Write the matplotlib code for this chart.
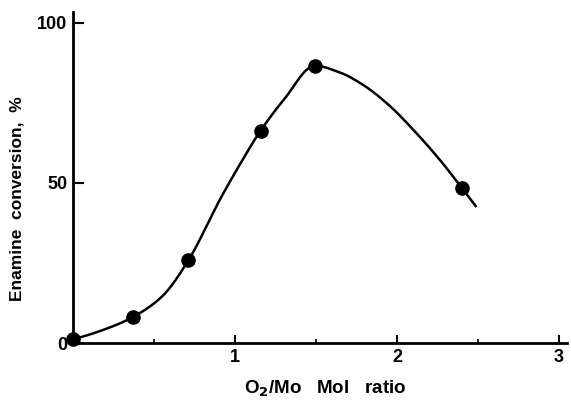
import numpy as np
import matplotlib
matplotlib.use("Agg")
import matplotlib.pyplot as plt

# Measured data points
ratio = [0.0, 0.373, 0.712, 1.158, 1.494, 2.40]
conversion = [1.2, 8.2, 25.8, 66.3, 86.6, 48.5]

# Hand-drawn smooth curve
curve_x = [0.0, 0.214, 0.373, 0.549, 0.712, 0.907, 1.012, 1.158, 1.30,
           1.494, 1.648, 1.792, 1.957, 2.121, 2.265, 2.40, 2.486]
curve_y = [1.2, 4.6, 8.2, 14.5, 25.8, 44.8, 54.2, 66.3, 75.9,
           86.6, 84.5, 80.6, 74.0, 65.5, 57.2, 48.5, 42.8]

x_ticks = [0, 1, 2, 3]
x_tick_labels = ["", "1", "2", "3"]
y_ticks = [0, 50, 100]
y_tick_labels = ["0", "50", "100"]

plt.rcParams['font.family'] = ["Liberation Sans", "DejaVu Sans"]


def _end_slope(h0, h1, d0, d1):
    d = ((2 * h0 + h1) * d0 - h0 * d1) / (h0 + h1)
    if np.sign(d) != np.sign(d0):
        d = 0.0
    elif np.sign(d0) != np.sign(d1) and abs(d) > abs(3 * d0):
        d = 3 * d0
    return d


def pchip(x, y, num=800):
    x = np.asarray(x, float)
    y = np.asarray(y, float)
    n = len(x)
    h = np.diff(x)
    delta = np.diff(y) / h
    d = np.zeros(n)
    for k in range(1, n - 1):
        if delta[k - 1] * delta[k] <= 0:
            d[k] = 0.0
        else:
            w1 = 2 * h[k] + h[k - 1]
            w2 = h[k] + 2 * h[k - 1]
            d[k] = (w1 + w2) / (w1 / delta[k - 1] + w2 / delta[k])
    d[0] = _end_slope(h[0], h[1], delta[0], delta[1])
    d[-1] = _end_slope(h[-1], h[-2], delta[-1], delta[-2])
    xs = np.linspace(x[0], x[-1], num)
    idx = np.clip(np.searchsorted(x, xs) - 1, 0, n - 2)
    hh = h[idx]
    t = (xs - x[idx]) / hh
    h00 = 2 * t ** 3 - 3 * t ** 2 + 1
    h10 = t ** 3 - 2 * t ** 2 + t
    h01 = -2 * t ** 3 + 3 * t ** 2
    h11 = t ** 3 - t ** 2
    ys = h00 * y[idx] + h10 * hh * d[idx] + h01 * y[idx + 1] + h11 * hh * d[idx + 1]
    return xs, ys


fig = plt.figure(figsize=(5.71, 4.04), dpi=100)
ax = fig.add_axes([73 / 571, 61 / 404, 494 / 571, 331 / 404])
ax.set_xlim(0, 3.05)
ax.set_ylim(0, 103.4)

sx, sy = pchip(curve_x, curve_y)
ax.plot(sx, sy, color="black", lw=1.8, zorder=2, clip_on=False)
ax.plot(ratio, conversion, "o", color="black", markersize=9.5, zorder=3, clip_on=False)

for s in ["top", "right"]:
    ax.spines[s].set_visible(False)
for s in ["left", "bottom"]:
    ax.spines[s].set_linewidth(2.0)

ax.set_xticks(x_ticks)
ax.set_xticklabels(x_tick_labels)
ax.set_xticks([0.5, 1.5, 2.5], minor=True)
ax.set_yticks(y_ticks)
ax.set_yticklabels(y_tick_labels)
ax.tick_params(axis="x", which="major", direction="in", length=6, width=1.5,
               labelsize=13, pad=4)
ax.tick_params(axis="x", which="minor", direction="in", length=3, width=1.2)
ax.tick_params(axis="y", which="major", direction="in", length=8, width=1.5,
               labelsize=13, pad=4)
for lab in ax.get_xticklabels() + ax.get_yticklabels():
    lab.set_fontweight("bold")

ax.set_xlabel("O$_\\mathbf{2}$/Mo   Mol   ratio", fontsize=13.5, fontweight="bold")
ax.xaxis.set_label_coords(0.511, -0.108)
ax.set_ylabel("Enamine  conversion,  %", fontsize=12.5, fontweight="bold")
ax.yaxis.set_label_coords(-0.099, 0.435)

fig.savefig("out.png", dpi=100)
